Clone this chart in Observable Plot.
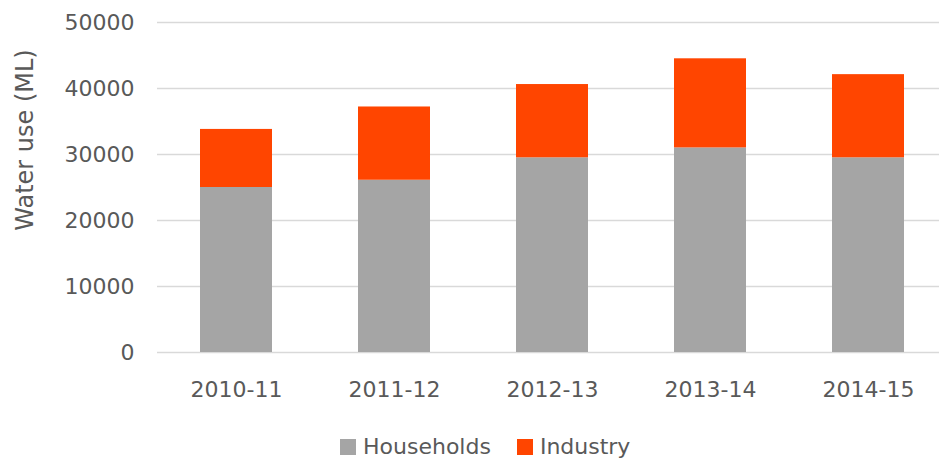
<!DOCTYPE html>
<html>
<head>
<meta charset="utf-8">
<script src="https://cdn.jsdelivr.net/npm/d3@7"></script>
<script src="https://cdn.jsdelivr.net/npm/@observablehq/plot@0.6"></script>
<style>
  html, body { margin: 0; padding: 0; background: #fff; }
  body { width: 939px; height: 461px; overflow: hidden; font-family: "DejaVu Sans", sans-serif; }
  #legend { display: flex; align-items: center; height: 29px; padding-left: 340px; font-size: 22px; color: #595959; }
  #legend .item { display: flex; align-items: center; margin-right: 26px; }
  #legend .sw { width: 16px; height: 16px; margin-right: 7px; }
</style>
</head>
<body>
<div id="chart"></div>
<div id="legend"></div>
<script>
const years = ["2010-11", "2011-12", "2012-13", "2013-14", "2014-15"];
const series = ["Households", "Industry"];
const households = [25000, 26100, 29500, 31000, 29500];
const industry = [8800, 11100, 11100, 13500, 12600];
const yTicks = [0, 10000, 20000, 30000, 40000, 50000];
const colors = ["#A5A5A5", "#FF4500"];
const yLabel = "Water use (ML)";

const rows = [];
years.forEach((y, i) => {
  rows.push({year: y, series: series[0], value: households[i]});
  rows.push({year: y, series: series[1], value: industry[i]});
});

const chart = Plot.plot({
  width: 939,
  height: 432,
  marginTop: 22,
  marginBottom: 80,
  marginLeft: 157,
  marginRight: 0,
  style: {fontFamily: "DejaVu Sans, sans-serif", fontSize: "22px", color: "#595959", background: "#fff"},
  x: {domain: years, range: [157, 947], paddingInner: 0.544, paddingOuter: 0.272, label: null},
  y: {domain: [0, 50000], label: null},
  color: {domain: series, range: colors},
  marks: [
    Plot.ruleY(yTicks, {stroke: "#D9D9D9", strokeWidth: 1.5}),
    Plot.barY(rows, {x: "year", y: "value", fill: "series", order: series}),
    Plot.axisY(yTicks, {tickSize: 0, tickPadding: 23, tickFormat: d => String(d), fill: "#595959", label: null}),
    Plot.axisX(years, {tickSize: 0, tickPadding: 29, fill: "#595959", label: null})
  ]
});
document.getElementById("chart").appendChild(chart);

d3.select(chart).append("text")
  .attr("transform", "translate(33,140) rotate(-90)")
  .attr("text-anchor", "middle")
  .attr("fill", "#595959")
  .attr("font-size", "24px")
  .attr("font-family", "DejaVu Sans, sans-serif")
  .text(yLabel);

const legend = d3.select("#legend");
series.forEach((s, i) => {
  const it = legend.append("div").attr("class", "item");
  it.append("div").attr("class", "sw").style("background", colors[i]);
  it.append("span").text(s);
});
</script>
</body>
</html>
